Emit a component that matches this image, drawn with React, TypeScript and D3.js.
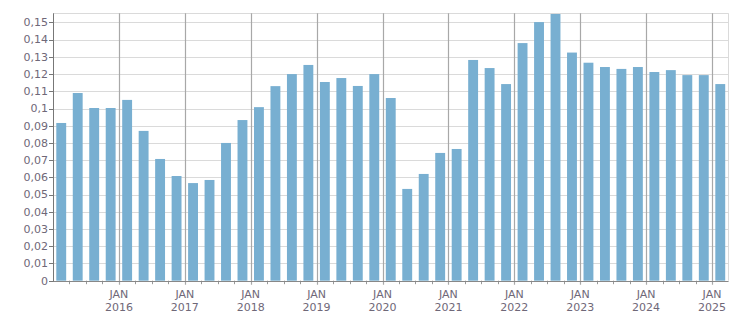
import React from 'react';
import * as d3 from 'd3';

const YEARS = [2015, 2016, 2017, 2018, 2019, 2020, 2021, 2022, 2023, 2024, 2025];

const QUARTERS: string[] = YEARS.flatMap((y) =>
  (y === 2025 ? ['Q1'] : ['Q1', 'Q2', 'Q3', 'Q4']).map((q) => `${y} ${q}`)
);

const VALUES = [
  0.0916, 0.109, 0.1003, 0.1003,
  0.105, 0.087, 0.0707, 0.0608,
  0.0567, 0.0585, 0.08, 0.0933,
  0.1008, 0.113, 0.12, 0.1253,
  0.1154, 0.1177, 0.1131, 0.12,
  0.1061, 0.0533, 0.062, 0.0742,
  0.0765, 0.1282, 0.1235, 0.1142,
  0.138, 0.1502, 0.1549, 0.1325,
  0.1266, 0.1241, 0.123, 0.1241,
  0.1212, 0.1223, 0.1194, 0.1194,
  0.1142,
];

const Y_TICKS = d3.range(0, 16).map((i) => i / 100);
const YEAR_LABELS = ['2016', '2017', '2018', '2019', '2020', '2021', '2022', '2023', '2024', '2025'];

const W = 751;
const H = 313;
const LEFT = 53;
const RIGHT = 728.5;
const TOP = 13.3;
const BOTTOM = 280.7;
const Y_MAX = 0.1553;

const BAR_COLOR = '#78afd1';
const TEXT_COLOR = '#6f6878';
const FONT = '"DejaVu Sans", Verdana, sans-serif';

const fmt = (v: number) => String(+v.toFixed(2)).replace('.', ',');

export default function App() {
  const x = d3.scaleBand<string>().domain(QUARTERS).range([LEFT, RIGHT]).paddingInner(0.4).paddingOuter(0.2);
  const y = d3.scaleLinear().domain([0, Y_MAX]).range([BOTTOM, TOP]);
  const step = x.step();
  const edge = (q: string) => (x(q) ?? 0) - step * 0.2;

  return (
    <svg width={W} height={H} style={{ position: 'absolute', left: 0, top: 0 }} fontFamily={FONT}>
      {/* horizontal grid */}
      {Y_TICKS.map((t) => (
        <line key={t} x1={LEFT} x2={RIGHT} y1={Math.round(y(t)) + 0.5} y2={Math.round(y(t)) + 0.5} stroke="#dadada" />
      ))}
      <line x1={LEFT} x2={RIGHT} y1={Math.round(TOP) + 0.5} y2={Math.round(TOP) + 0.5} stroke="#dadada" />
      <line x1={Math.round(RIGHT) - 0.5} x2={Math.round(RIGHT) - 0.5} y1={TOP} y2={BOTTOM} stroke="#dadada" />

      {/* bars */}
      {QUARTERS.map((q, i) => (
        <rect key={q} x={x(q)} width={x.bandwidth()} y={y(VALUES[i])} height={BOTTOM - y(VALUES[i])} fill={BAR_COLOR} />
      ))}

      {/* year grid lines */}
      {QUARTERS.map((q, i) =>
        i > 0 && q.endsWith('Q1') ? (
          <line key={q} x1={Math.round(edge(q)) + 0.5} x2={Math.round(edge(q)) + 0.5} y1={TOP} y2={BOTTOM + 4} stroke="#a8a8a8" strokeWidth={1.2} />
        ) : null
      )}

      {/* minor x ticks */}
      {QUARTERS.map((q, i) =>
        i > 0 && !q.endsWith('Q1') ? (
          <line key={q} x1={Math.round(edge(q)) + 0.5} x2={Math.round(edge(q)) + 0.5} y1={BOTTOM} y2={BOTTOM + 3.5} stroke="#999" />
        ) : null
      )}

      {/* axes */}
      <line x1={LEFT} x2={RIGHT} y1={Math.round(BOTTOM) + 0.5} y2={Math.round(BOTTOM) + 0.5} stroke="#888" />
      <line x1={LEFT + 0.5} x2={LEFT + 0.5} y1={TOP} y2={BOTTOM + 1} stroke="#777" />

      {Y_TICKS.map((t) => (
        <g key={t}>
          <line x1={LEFT - 4} x2={LEFT} y1={Math.round(y(t)) + 0.5} y2={Math.round(y(t)) + 0.5} stroke="#777" />
          <text x={LEFT - 5} y={y(t)} dy="0.35em" textAnchor="end" fontSize={11} fill={TEXT_COLOR}>
            {fmt(t)}
          </text>
        </g>
      ))}

      {YEAR_LABELS.map((yr) => {
        const cx = edge(`${yr} Q1`);
        return (
          <g key={yr}>
            <text x={cx} y={298} textAnchor="middle" fontSize={11} fill={TEXT_COLOR}>JAN</text>
            <text x={cx} y={310.5} textAnchor="middle" fontSize={11} fill={TEXT_COLOR}>{yr}</text>
          </g>
        );
      })}
    </svg>
  );
}
